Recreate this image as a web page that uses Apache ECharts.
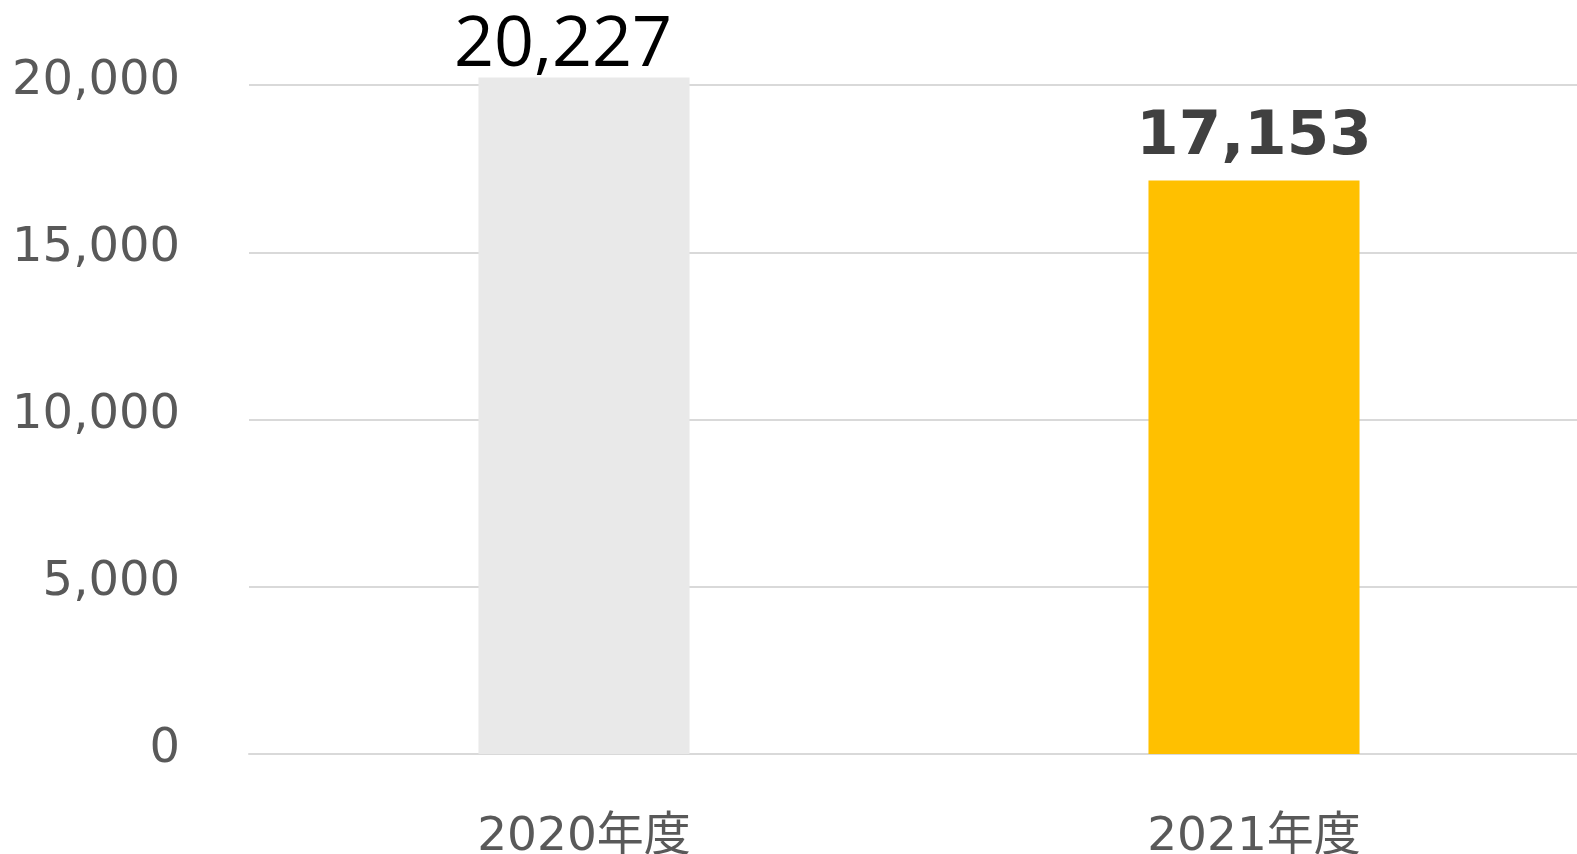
<!DOCTYPE html>
<html>
<head>
<meta charset="utf-8">
<script src="https://cdn.jsdelivr.net/npm/echarts@6/dist/echarts.min.js"></script>
<style>
html,body{margin:0;padding:0;background:#fff;}
#c{width:1577px;height:854px;}
</style>
</head>
<body>
<div id="c"></div>
<script>
const categories = ['2020年度', '2021年度'];
const values = [20227, 17153];
const barColors = ['#E9E9E9', '#FFC000'];
const yTicks = [0, 5000, 10000, 15000, 20000, 25000];

const chart = echarts.init(document.getElementById('c'), null, {renderer: 'canvas'});
const fmt = v => v.toLocaleString('en-US');

chart.setOption({
  animation: false,
  backgroundColor: '#ffffff',
  grid: {left: 249, right: -12, top: -82, bottom: 100, containLabel: false, outerBoundsMode: 'none'},
  xAxis: {
    type: 'category',
    data: categories,
    axisLine: {show: true, lineStyle: {color: '#D9D9D9', width: 2}},
    axisTick: {show: false},
    axisLabel: {
      color: '#595959',
      fontFamily: 'DejaVu Sans, Noto Sans CJK JP',
      fontSize: 47,
      margin: 60
    }
  },
  yAxis: {
    type: 'value',
    min: yTicks[0],
    max: yTicks[yTicks.length - 1],
    interval: 5000,
    axisLine: {show: false},
    axisTick: {show: false},
    splitLine: {lineStyle: {color: '#D9D9D9', width: 2}},
    axisLabel: {
      color: '#595959',
      fontFamily: 'DejaVu Sans',
      fontSize: 48,
      margin: 69,
      formatter: v => '{a|' + fmt(v) + '}',
      rich: {
        a: {color: '#595959', fontFamily: 'DejaVu Sans', fontSize: 48, padding: [0, 0, 8, 0]}
      }
    }
  },
  series: [{
    type: 'bar',
    barWidth: '31.5%',
    data: values.map((v, i) => ({
      value: v,
      itemStyle: {color: barColors[i]},
      label: i === 0 ? {
        show: true, position: 'top', distance: -3, offset: [-21, 0],
        color: '#000000', fontFamily: 'Open Sans', fontSize: 70, fontWeight: 'normal',
        formatter: p => fmt(p.value)
      } : {
        show: true, position: 'top', distance: 12,
        color: '#404040', fontFamily: 'DejaVu Sans', fontSize: 61, fontWeight: 'bold',
        formatter: p => fmt(p.value)
      }
    }))
  }]
});
</script>
</body>
</html>
